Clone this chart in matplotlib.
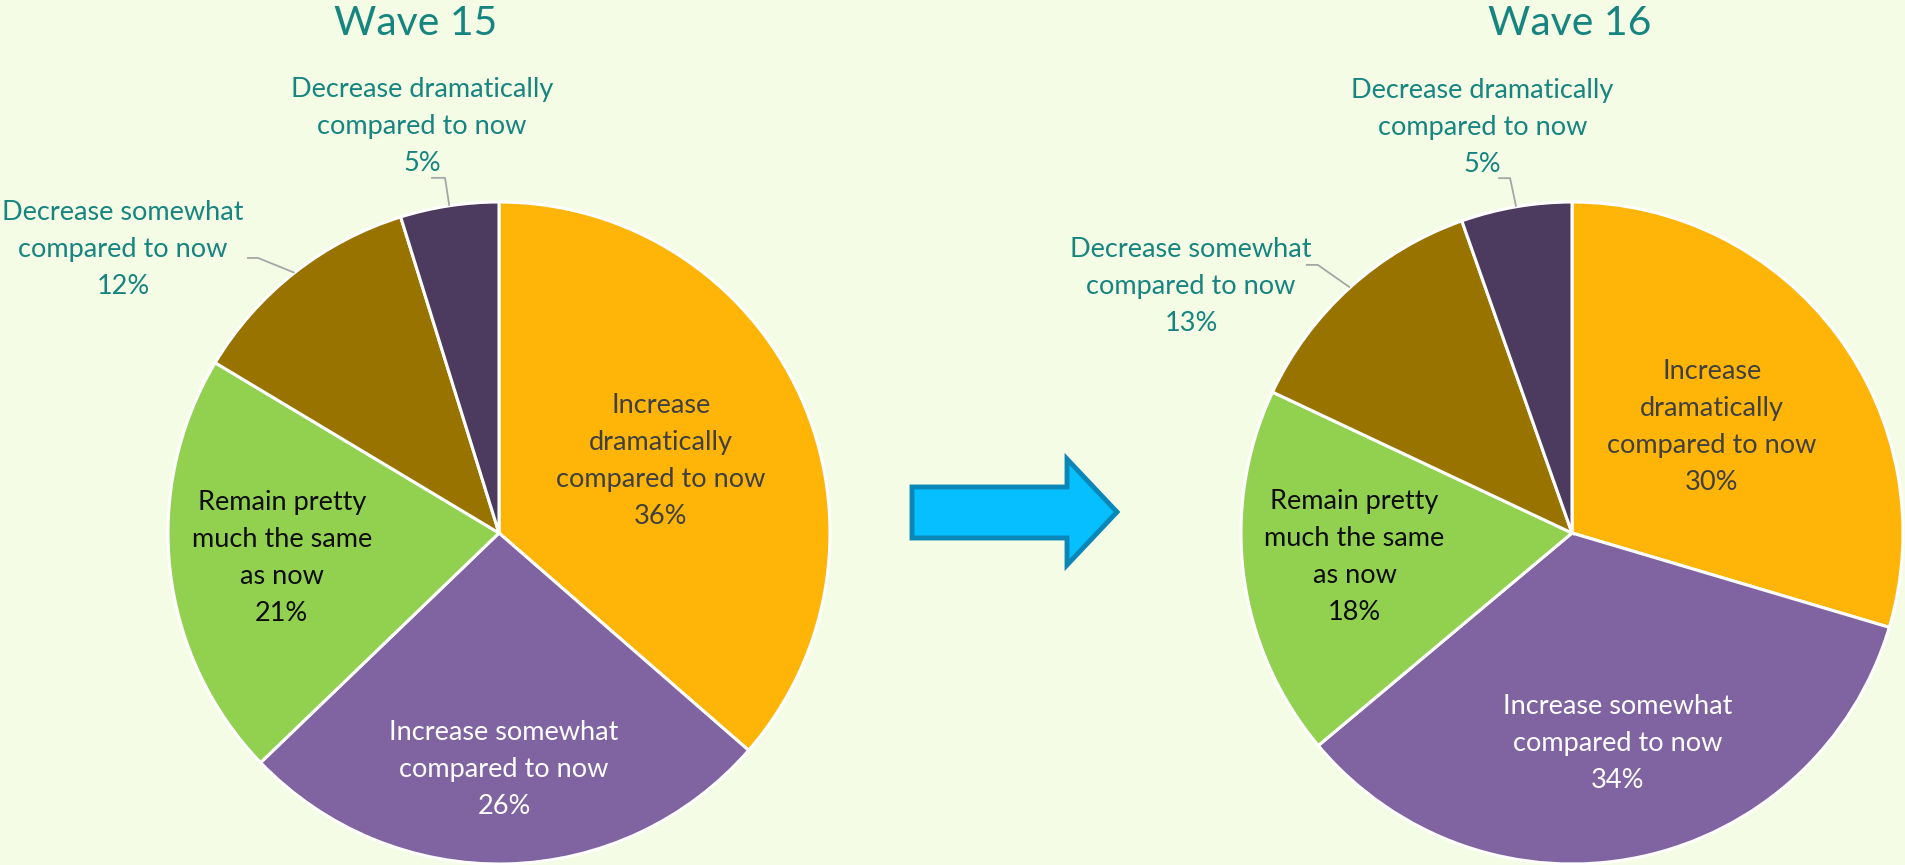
import matplotlib
matplotlib.use("Agg")
import matplotlib.pyplot as plt
from matplotlib.patches import Polygon
import numpy as np

# ---------------- data ----------------
categories = [
    "Increase dramatically compared to now",
    "Increase somewhat compared to now",
    "Remain pretty much the same as now",
    "Decrease somewhat compared to now",
    "Decrease dramatically compared to now",
]
wrapped_labels = [
    "Increase\ndramatically\ncompared to now",
    "Increase somewhat\ncompared to now",
    "Remain pretty\nmuch the same\nas now",
    "Decrease somewhat\ncompared to now",
    "Decrease dramatically\ncompared to now",
]
# shares (labels show them rounded)
wave15_values = [36.4, 26.4, 20.8, 11.6, 4.8]
wave16_values = [29.6, 34.3, 18.1, 12.6, 5.4]
titles = ["Wave 15", "Wave 16"]

# ---------------- style ----------------
W, H = 1906, 865
BG = "#F5FCE6"
slice_colors = ["#FFB507", "#8064A2", "#92D050", "#997300", "#4D3A5F"]
inner_text_colors = ["#404040", "#FFFFFF", "#0D0D0D"]
TEAL = "#168580"
LEADER = "#A6A6A6"
FONT = ["Lato", "DejaVu Sans"]
R = 331

fig = plt.figure(figsize=(W / 100, H / 100), dpi=100, facecolor=BG)
ax = fig.add_axes([0, 0, 1, 1])
ax.set_facecolor(BG)
renderer = fig.canvas.get_renderer()


def text_width(s, size):
    t = fig.text(0, 0, s, fontsize=size, family=FONT)
    w = t.get_window_extent(renderer).width
    t.remove()
    return w


def text_height(s, size, ls):
    t = fig.text(0, 0, s, fontsize=size, family=FONT, linespacing=ls)
    h = t.get_window_extent(renderer).height
    t.remove()
    return h


label_fs = 20 * 210 / text_width("compared to now", 20)
title_fs = 30 * 163 / text_width("Wave 15", 30)
# line pitch target ~37 px
p1 = text_height("A\nA", label_fs, 1.0) - text_height("A", label_fs, 1.0)
p2 = text_height("A\nA", label_fs, 2.0) - text_height("A", label_fs, 2.0)
label_ls = 1.0 + (37 - p1) / (p2 - p1) if p2 != p1 else 1.2

panels = [
    dict(values=wave15_values, title=titles[0], center=(499, 332), title_x=416,
         inner=[(0.489, 0.218), (0.015, -0.716), (-0.656, -0.076)],
         outer={3: dict(text=(-1.136, 0.855), start=(-0.761, 0.831), knee=(-0.728, 0.831)),
                4: dict(text=(-0.233, 1.227), start=(-0.205, 1.073), knee=(-0.163, 1.073))}),
    dict(values=wave16_values, title=titles[1], center=(1572, 332), title_x=1570,
         inner=[(0.422, 0.319), (0.139, -0.636), (-0.657, -0.072)],
         outer={3: dict(text=(-1.151, 0.744), start=(-0.804, 0.810), knee=(-0.768, 0.810)),
                4: dict(text=(-0.271, 1.226), start=(-0.223, 1.072), knee=(-0.187, 1.072))}),
]

for p in panels:
    cx, cy = p["center"]
    wedges, _ = ax.pie(p["values"], colors=slice_colors, startangle=90, counterclock=False,
                       center=(cx, cy), radius=R,
                       wedgeprops=dict(edgecolor="white", linewidth=2.2))
    for i, (dx, dy) in enumerate(p["inner"]):
        ax.text(cx + dx * R, cy + dy * R, f"{wrapped_labels[i]}\n{p['values'][i]:.0f}%",
                ha="center", va="center", multialignment="center",
                fontsize=label_fs, family=FONT, color=inner_text_colors[i],
                linespacing=label_ls)
    for i, o in p["outer"].items():
        w = wedges[i]
        mid = np.deg2rad((w.theta1 + w.theta2) / 2)
        ex, ey = cx + R * np.cos(mid), cy + R * np.sin(mid)
        sx, sy = cx + o["start"][0] * R, cy + o["start"][1] * R
        kx, ky = cx + o["knee"][0] * R, cy + o["knee"][1] * R
        ax.plot([sx, kx, ex], [sy, ky, ey], color=LEADER, lw=1.3, solid_capstyle="butt")
        ax.text(cx + o["text"][0] * R, cy + o["text"][1] * R,
                f"{wrapped_labels[i]}\n{p['values'][i]:.0f}%",
                ha="center", va="center", multialignment="center",
                fontsize=label_fs, family=FONT, color=TEAL, linespacing=label_ls)
    ax.text(p["title_x"], H - 35, p["title"], ha="center", va="baseline",
            fontsize=title_fs, family=FONT, color=TEAL)

# arrow between the two pies
arrow_pts = [(912, 378), (1067, 378), (1067, 406), (1117, 353), (1067, 300), (1067, 327), (912, 327)]
ax.add_patch(Polygon(arrow_pts, closed=True, facecolor="#05BFFF", edgecolor="#0A87B6",
                     linewidth=3.5, joinstyle="miter"))

ax.set_xlim(0, W)
ax.set_ylim(0, H)
ax.set_aspect("auto")
ax.axis("off")

fig.savefig("out.png", dpi=100, facecolor=BG)
